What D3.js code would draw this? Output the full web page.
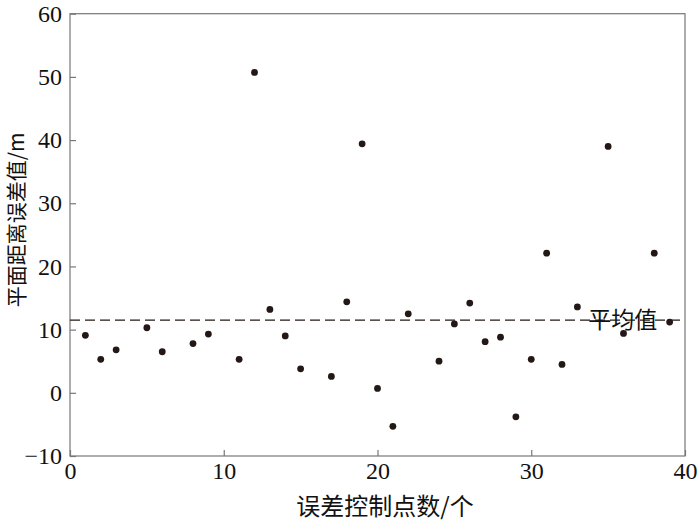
<!DOCTYPE html>
<html>
<head>
<meta charset="utf-8">
<script src="https://cdn.jsdelivr.net/npm/d3@7/dist/d3.min.js"></script>
<style>
  html, body { margin: 0; padding: 0; background: #fff; }
  svg { display: block; }
</style>
</head>
<body>
<svg id="chart" width="700" height="523"></svg>
<script>
// Data
const pointIndex = [1, 2, 3, 5, 6, 8, 9, 11, 12, 13, 14, 15, 17, 18, 19, 20, 21, 22, 24, 25, 26, 27, 28, 29, 30, 31, 32, 33, 35, 36, 38, 39];
const errorValues = [9.1, 5.3, 6.8, 10.3, 6.5, 7.8, 9.3, 5.3, 50.7, 13.2, 9.0, 3.8, 2.6, 14.4, 39.4, 0.7, -5.3, 12.5, 5.0, 10.9, 14.2, 8.1, 8.8, -3.8, 5.3, 22.1, 4.5, 13.6, 39.0, 9.4, 22.1, 11.2];
const meanValue = [11.5];
const xTicks = [0, 10, 20, 30, 40];
const yTicks = [-10, 0, 10, 20, 30, 40, 50, 60];
const xTitle = "误差控制点数/个";
const yTitle = "平面距离误差值/m";
const meanLabel = "平均值";

const svg = d3.select("#chart");
const pLeft = 70, pRight = 685, pTop = 13.7, pBottom = 456;

const x = d3.scaleLinear().domain([0, 40]).range([pLeft, pRight]);
const y = d3.scaleLinear().domain([-10, 60]).range([pBottom, pTop]);

const axisColor = "#777";
const tickFont = "'Liberation Serif', 'Times New Roman', serif";
const cjkFont = "'Noto Sans CJK SC', sans-serif";

// frame
svg.append("rect")
  .attr("x", pLeft).attr("y", pTop)
  .attr("width", pRight - pLeft).attr("height", pBottom - pTop)
  .attr("fill", "none").attr("stroke", axisColor).attr("stroke-width", 1.2);

// x axis
const xAxis = d3.axisBottom(x).tickValues(xTicks).tickSize(-6).tickPadding(6).tickSizeOuter(0);
const gx = svg.append("g").attr("transform", `translate(0,${pBottom})`).call(xAxis);
gx.select(".domain").remove();
gx.selectAll(".tick line").attr("stroke", axisColor).attr("stroke-width", 1.2);
gx.selectAll(".tick text").attr("font-family", tickFont).attr("font-size", 24).attr("fill", "#111");

// y axis
const yAxis = d3.axisLeft(y).tickValues(yTicks).tickSize(-6).tickPadding(8).tickSizeOuter(0)
  .tickFormat(d => d < 0 ? "\u2212" + Math.abs(d) : d);
const gy = svg.append("g").attr("transform", `translate(${pLeft},0)`).call(yAxis);
gy.select(".domain").remove();
gy.selectAll(".tick line").attr("stroke", axisColor).attr("stroke-width", 1.2);
gy.selectAll(".tick text").attr("font-family", tickFont).attr("font-size", 24).attr("fill", "#111")
  .attr("dy", "0.32em");

// mean dashed line
svg.append("line")
  .attr("x1", x(0)).attr("x2", x(40))
  .attr("y1", y(meanValue[0])).attr("y2", y(meanValue[0]))
  .attr("stroke", "#231815").attr("stroke-width", 1.3)
  .attr("stroke-dasharray", "10,5");

svg.append("text")
  .attr("x", x(33.7)).attr("y", y(meanValue[0]) + 8)
  .attr("font-family", cjkFont).attr("font-size", 23).attr("fill", "#111")
  .text(meanLabel);

// points
svg.append("g").selectAll("circle")
  .data(pointIndex.map((d, i) => [d, errorValues[i]]))
  .join("circle")
  .attr("cx", d => x(d[0])).attr("cy", d => y(d[1]))
  .attr("r", 3.4).attr("fill", "#231815");

// titles
svg.append("text")
  .attr("x", 385).attr("y", 515)
  .attr("text-anchor", "middle")
  .attr("font-family", cjkFont).attr("font-size", 24).attr("fill", "#111")
  .text(xTitle);

svg.append("text")
  .attr("transform", `translate(24,${(pTop + pBottom) / 2 - 15}) rotate(-90)`)
  .attr("text-anchor", "middle")
  .attr("font-family", cjkFont).attr("font-size", 21).attr("fill", "#111")
  .text(yTitle);
</script>
</body>
</html>
